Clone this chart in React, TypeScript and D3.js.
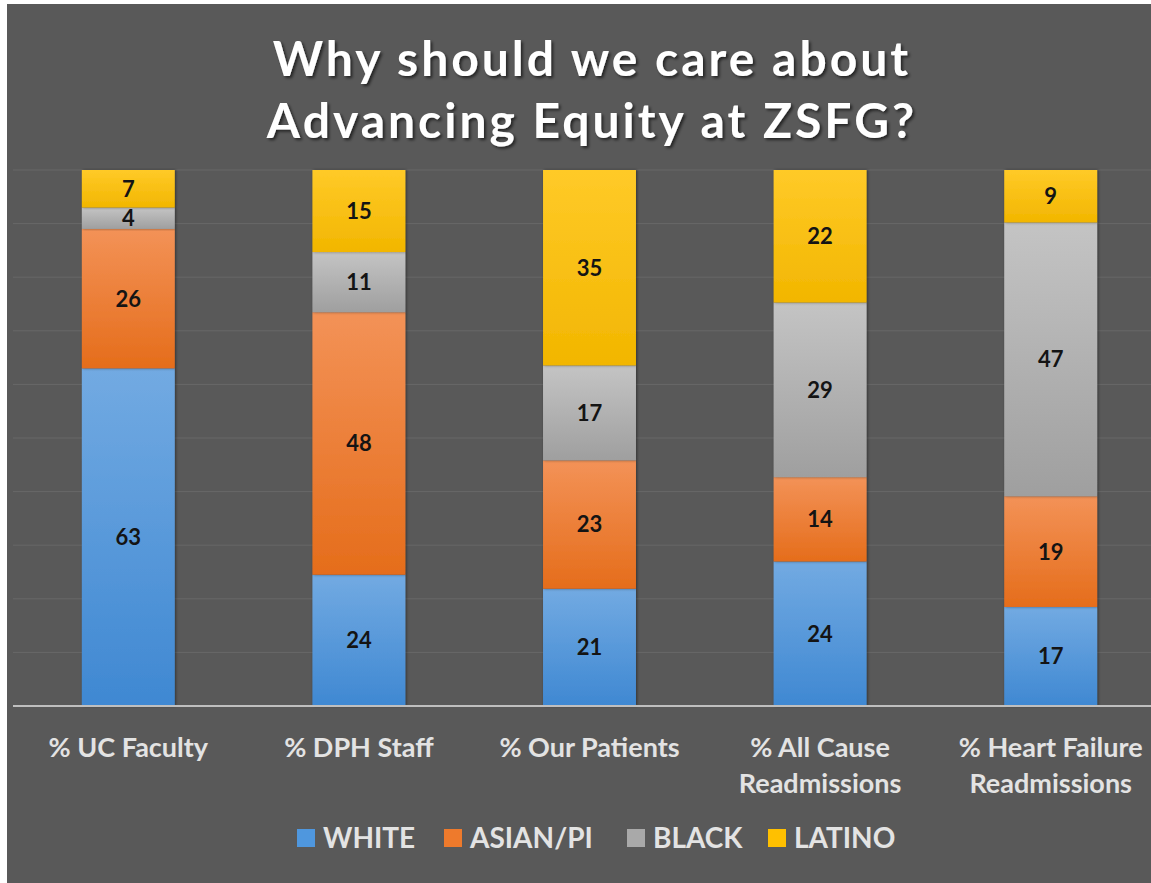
import React from "react";
import * as d3 from "d3";

const categories: string[][] = [
  ["% UC Faculty"],
  ["% DPH Staff"],
  ["% Our Patients"],
  ["% All Cause", "Readmissions"],
  ["% Heart Failure", "Readmissions"],
];
const seriesNames = ["WHITE", "ASIAN/PI", "BLACK", "LATINO"];
const white = [63, 24, 21, 24, 17];
const asianPi = [26, 48, 23, 14, 19];
const black = [4, 11, 17, 29, 47];
const latino = [7, 15, 35, 22, 9];
const titleLines = ["Why should we care about", "Advancing Equity at ZSFG?"];
const gridTicks = [0, 0.1, 0.2, 0.3, 0.4, 0.5, 0.6, 0.7, 0.8, 0.9, 1];

const palette = [
  { top: "#72aae2", bottom: "#3f88d2", key: "#4f97de" },
  { top: "#f39257", bottom: "#e56d1b", key: "#ee7a2c" },
  { top: "#c4c4c4", bottom: "#9f9f9f", key: "#a9a9a9" },
  { top: "#ffca28", bottom: "#f2b600", key: "#ffc000" },
];

const W = 1151;
const H = 883;
const FONT = "Lato, 'Open Sans', sans-serif";

export default function App() {
  const rows = categories.map((c, i) => ({
    key: String(i),
    s0: white[i],
    s1: asianPi[i],
    s2: black[i],
    s3: latino[i],
  }));
  const stacked = d3
    .stack<any>()
    .keys(["s0", "s1", "s2", "s3"])
    .offset(d3.stackOffsetExpand)(rows);

  const x = d3
    .scaleBand<string>()
    .domain(rows.map((r) => r.key))
    .range([13, 1166])
    .paddingInner(0.597)
    .paddingOuter(0.2985);
  const y = d3.scaleLinear().domain([0, 1]).range([706, 170]);
  const rawValues = [white, asianPi, black, latino];

  // legend layout: swatch left edges and label widths follow the label lengths
  const legendSwatch = [297, 444, 627, 768];

  return (
    <svg
      width={W}
      height={H}
      style={{ position: "absolute", left: 0, top: 0 }}
      fontFamily={FONT}
    >
      <defs>
        {palette.map((p, i) => (
          <linearGradient key={i} id={`g${i}`} x1="0" y1="0" x2="0" y2="1">
            <stop offset="0%" stopColor={p.top} />
            <stop offset="100%" stopColor={p.bottom} />
          </linearGradient>
        ))}
        <filter id="tshadow" x="-10%" y="-20%" width="120%" height="150%">
          <feDropShadow dx="2" dy="2" stdDeviation="1.5" floodColor="#000" floodOpacity="0.6" />
        </filter>
        <filter id="bshadow" x="-20%" y="-5%" width="140%" height="110%">
          <feDropShadow dx="1" dy="0" stdDeviation="1.5" floodColor="#000" floodOpacity="0.45" />
        </filter>
      </defs>
      <rect x={0} y={0} width={W} height={H} fill="#ffffff" />
      <rect x={7} y={4} width={W - 7} height={H - 4} fill="#595959" />

      {/* title */}
      <g filter="url(#tshadow)">
        {titleLines.map((t, i) => (
          <text
            key={i}
            x={592}
            y={76 + i * 62}
            textAnchor="middle"
            fill="#ffffff"
            fontSize={48}
            fontWeight={700}
            letterSpacing={3}
          >
            {t}
          </text>
        ))}
      </g>

      {/* gridlines */}
      {gridTicks.map((t) => (
        <line
          key={t}
          x1={13}
          x2={W}
          y1={y(t)}
          y2={y(t)}
          stroke="#686868"
          strokeWidth={1}
        />
      ))}

      {/* stacked bars */}
      {stacked.map((layer, si) => (
        <g key={si}>
          {layer.map((d, ci) => {
            const x0 = x(rows[ci].key)!;
            const y0 = y(d[1]);
            const h = y(d[0]) - y(d[1]);
            return (
              <g key={ci}>
                <rect
                  x={x0}
                  y={y0}
                  width={x.bandwidth()}
                  height={h}
                  fill={`url(#g${si})`}
                  filter="url(#bshadow)"
                />
                <text
                  x={x0 + x.bandwidth() / 2}
                  y={y0 + h / 2}
                  dy="0.36em"
                  textAnchor="middle"
                  fontSize={22}
                  fontWeight={700}
                  fill="#141414"
                >
                  {rawValues[si][ci]}
                </text>
              </g>
            );
          })}
        </g>
      ))}

      {/* axis baseline */}
      <line x1={13} x2={W} y1={y(0)} y2={y(0)} stroke="#bfbfbf" strokeWidth={2} />

      {/* category labels */}
      {categories.map((lines, ci) => (
        <text
          key={ci}
          x={x(rows[ci].key)! + x.bandwidth() / 2}
          textAnchor="middle"
          fill="#e3e3e3"
          fontSize={27}
          fontWeight={700}
        >
          {lines.map((l, li) => (
            <tspan key={li} x={x(rows[ci].key)! + x.bandwidth() / 2} y={757 + li * 36}>
              {l}
            </tspan>
          ))}
        </text>
      ))}

      {/* legend */}
      {seriesNames.map((n, i) => (
        <g key={n}>
          <rect x={legendSwatch[i]} y={829} width={18} height={18} fill={palette[i].key} />
          <text
            x={legendSwatch[i] + 26}
            y={848}
            fill="#e3e3e3"
            fontSize={28}
            fontWeight={700}
          >
            {n}
          </text>
        </g>
      ))}
    </svg>
  );
}
